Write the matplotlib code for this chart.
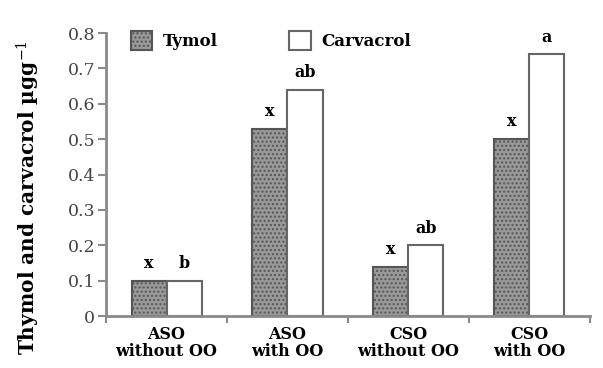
import matplotlib
matplotlib.use("Agg")
import matplotlib.pyplot as plt
import numpy as np

categories = ["ASO\nwithout OO", "ASO\nwith OO", "CSO\nwithout OO", "CSO\nwith OO"]
tymol = [0.10, 0.53, 0.14, 0.50]
carvacrol = [0.10, 0.64, 0.20, 0.74]
tymol_letters = ["x", "x", "x", "x"]
carvacrol_letters = ["b", "ab", "ab", "a"]

plt.rcParams["font.family"] = ["DejaVu Serif"]
plt.rcParams["mathtext.fontset"] = "dejavuserif"
plt.rcParams["hatch.color"] = "#7a7a7a"

AXIS_GREY = "#8a8a8a"

fig = plt.figure(figsize=(6.03, 3.68), dpi=100)
ax = fig.add_axes([0.176, 0.141, 0.802, 0.769])

x = np.arange(len(categories)) + 0.5
w = 0.29
ax.bar(x - w / 2, tymol, w, facecolor="#999999", edgecolor="#555555",
       linewidth=1.5, hatch="....", label="Tymol")
ax.bar(x + w / 2, carvacrol, w, facecolor="white", edgecolor="#666666",
       linewidth=1.5, label="Carvacrol")

# significance letters above each bar
for xi, v, t in zip(x - w / 2, tymol, tymol_letters):
    ax.text(xi, v + 0.025, t, ha="center", va="bottom", fontsize=11.5, fontweight="bold")
for xi, v, t in zip(x + w / 2, carvacrol, carvacrol_letters):
    ax.text(xi, v + 0.025, t, ha="center", va="bottom", fontsize=11.5, fontweight="bold")

ax.set_xlim(0, 4)
ax.set_ylim(0, 0.8)
ax.set_yticks(np.arange(0, 0.81, 0.1))
ax.set_yticklabels(["0"] + [f"{v:.1f}" for v in np.arange(0.1, 0.81, 0.1)])
ax.set_xticks(np.arange(0, 5))
ax.set_xticklabels([])
ax.set_xticks(x, minor=True)
ax.set_xticklabels(categories, minor=True, fontsize=11.5, fontweight="bold",
                   linespacing=1.05)
ax.tick_params(axis="x", which="minor", length=0, pad=7)
ax.tick_params(axis="x", which="major", length=5, width=1.5, color=AXIS_GREY, direction="out")
ax.tick_params(axis="y", length=6, width=1.5, color=AXIS_GREY, labelsize=12.5,
               labelcolor="#444444", pad=2)
for s in ["top", "right"]:
    ax.spines[s].set_visible(False)
for s in ["left", "bottom"]:
    ax.spines[s].set_color(AXIS_GREY)
    ax.spines[s].set_linewidth(2)

ax.set_ylabel(r"Thymol and carvacrol µgg$^{-1}$", fontsize=14.5, fontweight="bold")
ax.yaxis.set_label_coords(-0.132, 0.42)

ax.legend(loc="upper left", bbox_to_anchor=(0.02, 1.06), ncol=2, frameon=False,
          prop={"weight": "bold", "size": 12}, handlelength=1.3, handleheight=1.4,
          columnspacing=4.3, handletextpad=0.6)

fig.savefig("out.png", dpi=100)
